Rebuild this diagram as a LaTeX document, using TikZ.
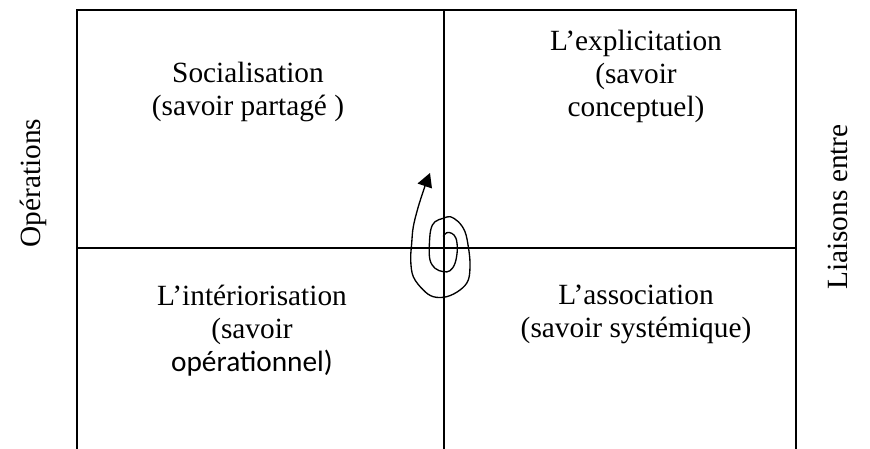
\documentclass[tikz,border=0pt]{standalone}
\usepackage{fontspec}
\setmainfont{Liberation Serif}
\newfontfamily\calfont{Carlito}

\begin{document}
\begin{tikzpicture}[x=0.75pt, y=-0.75pt,
    cell/.style={align=center, font=\fontsize{22}{24.75}\selectfont},
    side/.style={rotate=90, font=\fontsize{22}{24}\selectfont},
    spiral/.style={line width=1pt, line join=round, line cap=round}]
  \useasboundingbox (0,0) rectangle (870,449);
  % frame and quadrants
  \draw[line width=1.1pt] (77,449)--(77,10)--(796,10)--(796,449);
  \draw[line width=1.1pt] (444,10)--(444,449);
  \draw[line width=1.1pt] (77,248)--(796,248);
  % cells
  \node[cell] (soc) at (248,92){Socialisation\\(savoir partagé )};
  \node[cell] (expl) at (636,76){L’explicitation\\(savoir\\conceptuel)};
  \node[cell] (inter) at (252,331){L’intériorisation\\(savoir\\{\calfont opérationnel)}};
  \node[cell] (assoc) at (636,314.5){L’association\\(savoir systémique)};
  % side labels
  \node[side] (ops) at (33,183){Opérations};
  \node[side] (liai) at (838,207){Liaisons entre};
  % spiral
  \coordinate (sp0) at (443.3,236);
  \coordinate (sp1) at (425,186);
  \draw[spiral] plot[smooth, tension=0.6] coordinates {
    (sp0) (446.7,232.7) (451.7,233.3) (456,238.3) (457.3,250) (455,263.3)
    (450,270.7) (443.3,271.7) (435,268.3) (430,260) (429.3,246.7) (430.7,230)
    (435,221.7) (443.3,218.3) (450,216.7) (458.3,221.7) (465,231.7) (468.3,246.7)
    (470,263.3) (468.3,280) (460,290) (446.7,296.7) (433.3,296.7) (423.3,290)
    (413.3,276.7) (410.7,260) (411.7,243.3) (413.3,226.7) (418.3,206.7)
    (sp1)};
  \fill (430,173) -- (417.5,183.5) -- (432,188.5) -- cycle;
\end{tikzpicture}
\end{document}
